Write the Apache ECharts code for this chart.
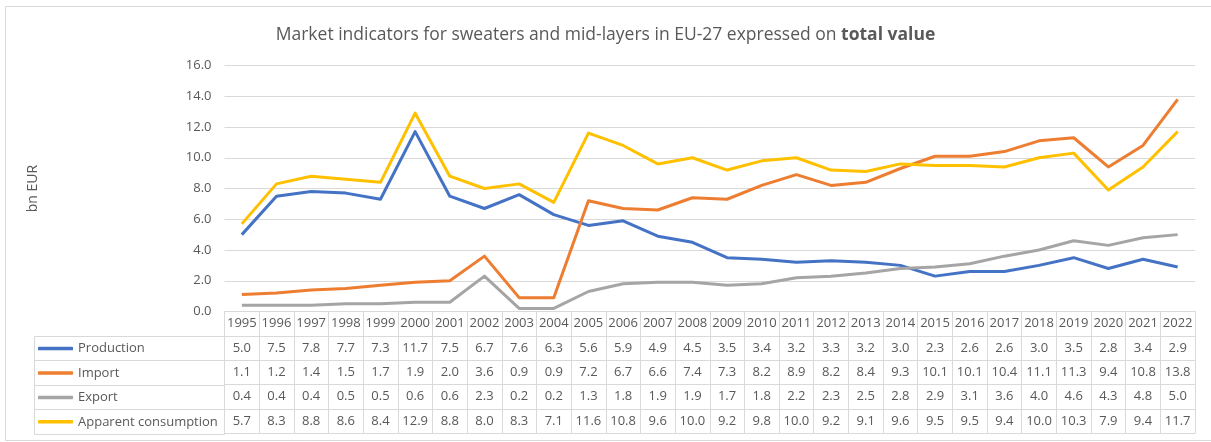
<!DOCTYPE html>
<html>
<head>
<meta charset="utf-8">
<script src="https://cdn.jsdelivr.net/npm/echarts@6/dist/echarts.min.js"></script>
<style>
  html, body { margin: 0; padding: 0; background: #fff; }
  #chart { width: 1211px; height: 442px; }
</style>
</head>
<body>
<div id="chart"></div>
<script>
const years = ['1995', '1996', '1997', '1998', '1999', '2000', '2001', '2002', '2003', '2004',
  '2005', '2006', '2007', '2008', '2009', '2010', '2011', '2012', '2013', '2014',
  '2015', '2016', '2017', '2018', '2019', '2020', '2021', '2022']
const production = [5.0, 7.5, 7.8, 7.7, 7.3, 11.7, 7.5, 6.7, 7.6, 6.3, 5.6, 5.9, 4.9, 4.5, 3.5, 3.4, 3.2, 3.3, 3.2, 3.0, 2.3, 2.6, 2.6, 3.0, 3.5, 2.8, 3.4, 2.9]
const importVal = [1.1, 1.2, 1.4, 1.5, 1.7, 1.9, 2.0, 3.6, 0.9, 0.9, 7.2, 6.7, 6.6, 7.4, 7.3, 8.2, 8.9, 8.2, 8.4, 9.3, 10.1, 10.1, 10.4, 11.1, 11.3, 9.4, 10.8, 13.8]
const exportVal = [0.4, 0.4, 0.4, 0.5, 0.5, 0.6, 0.6, 2.3, 0.2, 0.2, 1.3, 1.8, 1.9, 1.9, 1.7, 1.8, 2.2, 2.3, 2.5, 2.8, 2.9, 3.1, 3.6, 4.0, 4.6, 4.3, 4.8, 5.0]
const apparent = [5.7, 8.3, 8.8, 8.6, 8.4, 12.9, 8.8, 8.0, 8.3, 7.1, 11.6, 10.8, 9.6, 10.0, 9.2, 9.8, 10.0, 9.2, 9.1, 9.6, 9.5, 9.5, 9.4, 10.0, 10.3, 7.9, 9.4, 11.7]
const seriesNames = ['Production', 'Import', 'Export', 'Apparent consumption']
const seriesData = [production, importVal, exportVal, apparent]
const colors = ['#4472C4', '#ED7D31', '#A5A5A5', '#FFC000']

const FONT = '"Open Sans", "Noto Sans", sans-serif'
const TXT = '#595959'
const BORDER = '#d9d9d9'

// table geometry
const gridLeft = 224.5
const gridRight = 1195
const axisY = 311.5
const rowH = 24.4
const tableLeft = 34.5

const chart = echarts.init(document.getElementById('chart'), null, { renderer: 'canvas' })

// row axes: year row + one per series, each axis line is the row's top border
const rowAxes = [years].concat(seriesData.map(d => d.map(v => v.toFixed(1))))
const xAxes = rowAxes.map((labels, i) => ({
  type: 'category',
  gridIndex: 0,
  position: 'bottom',
  offset: i * rowH,
  data: labels,
  boundaryGap: true,
  axisLine: { show: true, lineStyle: { color: BORDER, width: 1 } },
  axisTick: { show: true, length: rowH, interval: 0, lineStyle: { color: BORDER } },
  axisLabel: { interval: 0, margin: 5.5, color: TXT, fontSize: 13, fontFamily: FONT },
  splitLine: { show: false }
}))
// bottom border of the table
xAxes.push({
  type: 'category',
  gridIndex: 0,
  position: 'bottom',
  offset: 5 * rowH,
  data: years.map(() => ''),
  axisLine: { show: true, lineStyle: { color: BORDER, width: 1 } },
  axisTick: { show: false },
  axisLabel: { show: false }
})

const legends = seriesNames.map((name, i) => ({
  data: [name],
  orient: 'vertical',
  left: 38,
  top: axisY + rowH * (i + 1) + rowH / 2 - 6,
  padding: 0,
  icon: 'roundRect',
  itemWidth: 35,
  itemHeight: 3.5,
  selectedMode: false,
  textStyle: { color: TXT, fontSize: 13, fontFamily: FONT }
}))

// left column borders of the table
const leftLines = []
for (let i = 1; i <= 5; i++) {
  const y = Math.round(axisY + rowH * i) + 0.5
  leftLines.push({
    type: 'line',
    shape: { x1: tableLeft, y1: y, x2: gridLeft, y2: y },
    style: { stroke: BORDER, lineWidth: 1 }
  })
}
leftLines.push({
  type: 'line',
  shape: { x1: tableLeft, y1: Math.round(axisY + rowH) + 0.5, x2: tableLeft, y2: Math.round(axisY + rowH * 5) + 0.5 },
  style: { stroke: BORDER, lineWidth: 1 }
})
leftLines.push({
  type: 'line',
  shape: { x1: gridLeft, y1: axisY, x2: gridLeft, y2: Math.round(axisY + rowH * 5) + 0.5 },
  style: { stroke: BORDER, lineWidth: 1 }
})

const option = {
  backgroundColor: '#fff',
  animation: false,
  title: {
    text: '{n|Market indicators for sweaters and mid-layers in EU-27 expressed on }{b|total value}',
    left: 'center',
    top: 21,
    textStyle: {
      fontWeight: 'normal',
      rich: {
        n: { fontSize: 17.5, color: TXT, fontFamily: FONT, fontWeight: 'normal' },
        b: { fontSize: 17.5, color: TXT, fontFamily: FONT, fontWeight: 'bold' }
      }
    }
  },
  legend: legends,
  grid: {
    left: gridLeft,
    right: 1211 - gridRight,
    top: 65.5,
    bottom: 442 - axisY,
    containLabel: false
  },
  color: colors,
  xAxis: xAxes,
  yAxis: {
    type: 'value',
    min: 0,
    max: 16,
    interval: 2,
    name: 'bn EUR',
    nameLocation: 'middle',
    nameRotate: 90,
    nameGap: 184,
    nameTextStyle: { color: TXT, fontSize: 14, fontFamily: FONT },
    axisLine: { show: false },
    axisTick: { show: false },
    axisLabel: { color: TXT, fontSize: 13, fontFamily: FONT, margin: 13, formatter: v => v.toFixed(1) },
    splitLine: { lineStyle: { color: BORDER, width: 1 } }
  },
  graphic: [
    {
      type: 'rect',
      shape: { x: 5.5, y: 6.5, width: 1220, height: 434 },
      style: { fill: 'none', stroke: BORDER, lineWidth: 1 },
      silent: true
    }
  ].concat(leftLines),
  series: seriesNames.map((name, i) => ({
    name: name,
    type: 'line',
    xAxisIndex: 0,
    data: seriesData[i],
    symbol: 'none',
    showSymbol: false,
    lineStyle: { width: 3, color: colors[i], join: 'round' },
    itemStyle: { color: colors[i] },
    z: 3
  }))
}

chart.setOption(option)
</script>
</body>
</html>
